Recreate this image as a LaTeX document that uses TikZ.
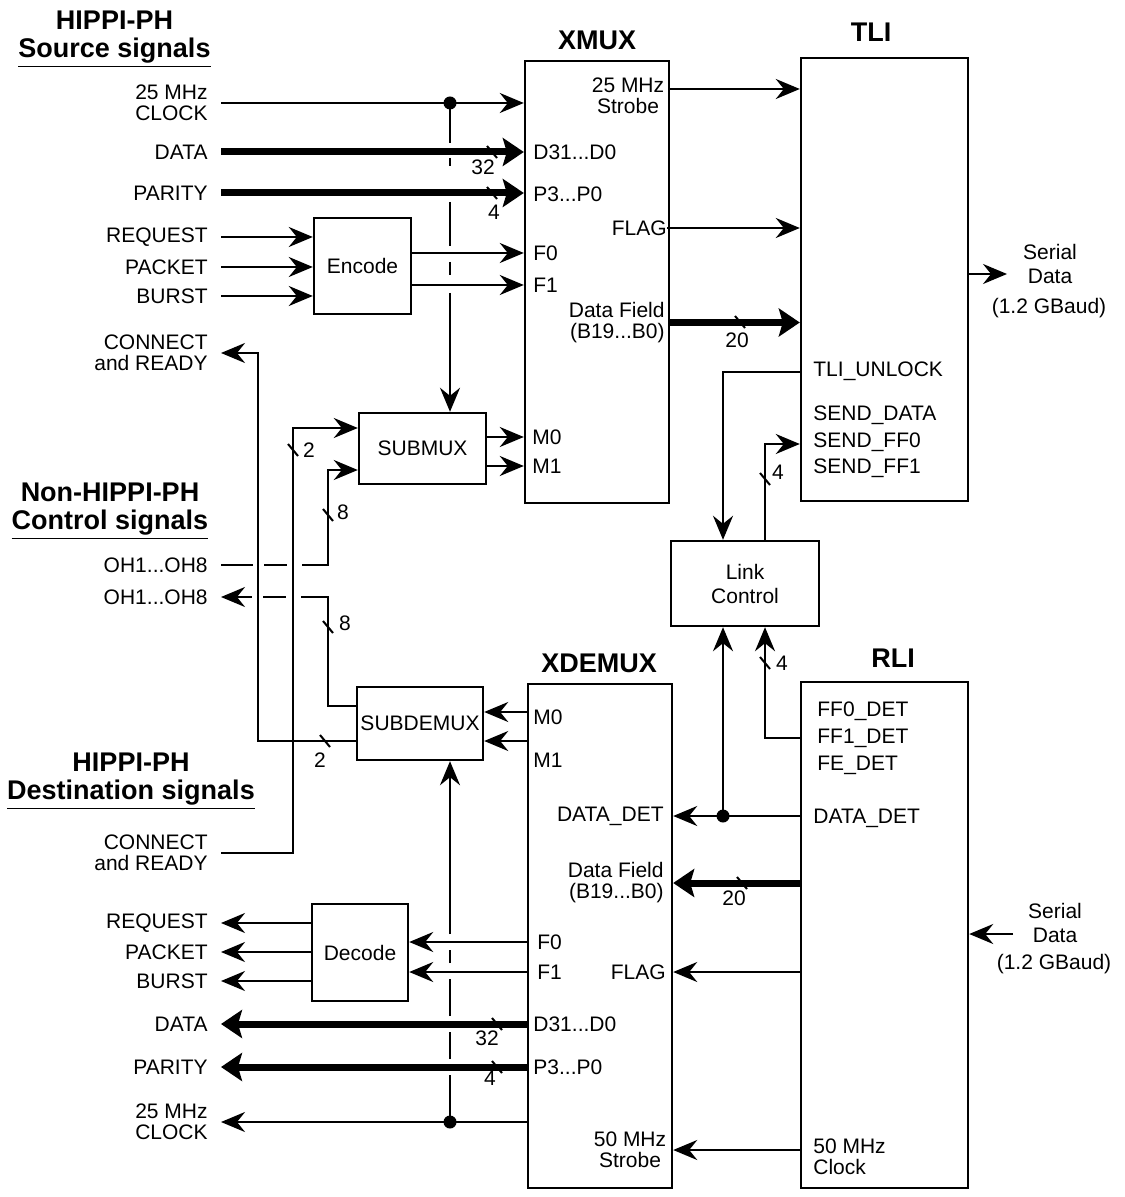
\documentclass[tikz,border=0pt]{standalone}
\usepackage{fontspec}
\setmainfont{Liberation Sans}
\usetikzlibrary{positioning,arrows.meta,calc}

\begin{document}
\begin{tikzpicture}[
  x=0.5pt, y=-0.5pt,
  font=\fontsize{10.5}{10.5}\selectfont,
  blk/.style   = {draw, line width=1.2pt, inner sep=0pt, align=center},
  ttl/.style   = {font=\fontsize{13.5}{14}\selectfont\bfseries, inner sep=0pt},
  grp/.style   = {font=\fontsize{13.5}{14}\selectfont\bfseries, align=center,
                  inner sep=0pt, anchor=north},
  sigl/.style  = {anchor=east, align=right, inner xsep=6.5pt, inner ysep=0pt},
  pinl/.style  = {anchor=west, align=left, inner sep=0pt},
  pinr/.style  = {anchor=east, align=right, inner sep=0pt},
  pinc/.style  = {align=center, inner sep=0pt},
  two/.style   = {font=\fontsize{10.5}{12}\selectfont},
  num/.style   = {inner sep=0pt},
  wire/.style  = {line width=1.2pt, -{Stealth[length=12pt, width=10pt, inset=4pt]}},
  bus/.style   = {line width=3.5pt, -{Stealth[length=10.5pt, width=14pt, inset=2pt]}},
  dot/.style   = {circle, fill, inner sep=0pt, minimum size=6.5pt},
  slash/.pic   = {\draw[line width=1pt] (-5,-6) -- (5,6);}
]
\useasboundingbox (0,0) rectangle (1124,1197);

% ------------------------------------------------------------- i blocchi --
\node[blk, minimum width=72pt,   minimum height=221pt]   (xmux)     at (597,282)     {};
\node[blk, minimum width=83.5pt, minimum height=221.5pt] (tli)      at (884.5,279.5) {};
\node[blk, minimum width=72pt,   minimum height=252pt]   (xdemux)   at (600,936)     {};
\node[blk, minimum width=83.5pt, minimum height=253pt]   (rli)      at (884.5,935)   {};
\node[blk, minimum width=48.5pt, minimum height=48pt]    (encode)   at (362.5,266)   {Encode};
\node[blk, minimum width=63.5pt, minimum height=35.5pt]  (submux)   at (422.5,448.5) {SUBMUX};
\node[blk, minimum width=63pt,   minimum height=36.5pt]  (subdemux) at (420,723.5)   {SUBDEMUX};
\node[blk, minimum width=48pt,   minimum height=48.5pt]  (decode)   at (360,952.5)   {Decode};
\node[blk, two, minimum width=74pt, minimum height=42.5pt] (link)   at (745,583.5)   {Link\\Control};

\node[ttl] (tXmux)   at (597,40)  {XMUX};
\node[ttl] (tTli)    at (871,32)  {TLI};
\node[ttl] (tXdemux) at (599,663) {XDEMUX};
\node[ttl] (tRli)    at (893,658) {RLI};

% ------------------------------------------------------------ i gruppi --
\node[grp] (gSrc) at (114.5,11) {HIPPI-PH\\\underline{Source signals}};
\node[grp] (gCtl) at (110,483)  {Non-HIPPI-PH\\\underline{Control signals}};
\node[grp] (gDst) at (131,753)  {HIPPI-PH\\\underline{Destination signals}};

% ---------------------------------------------------- segnali a sinistra --
\node[sigl] (lclkS) at (221,103)  {25 MHz\\CLOCK};
\node[sigl] (ldatS) at (221,152)  {DATA};
\node[sigl] (lparS) at (221,193)  {PARITY};
\node[sigl] (lreqS) at (221,237)  {REQUEST};
\node[sigl] (lpktS) at (221,267)  {PACKET};
\node[sigl] (lbstS) at (221,296)  {BURST};
\node[sigl] (lconO) at (221,353)  {CONNECT\\and READY};
\node[sigl] (lohI)  at (221,565)  {OH1...OH8};
\node[sigl] (lohO)  at (221,597)  {OH1...OH8};
\node[sigl] (lconI) at (221,853)  {CONNECT\\and READY};
\node[sigl] (lreqD) at (221,923)  {REQUEST};
\node[sigl] (lpktD) at (221,952)  {PACKET};
\node[sigl] (lbstD) at (221,981)  {BURST};
\node[sigl] (ldatD) at (221,1024) {DATA};
\node[sigl] (lparD) at (221,1067) {PARITY};
\node[sigl] (lclkD) at (221,1122) {25 MHz\\CLOCK};

% ------------------------------------------------------- pin dei blocchi --
\node[pinc] (xStr)  at (628,95.5)  {25 MHz\\Strobe};
\node[pinl] (xD)    at (533,152)   {D31...D0};
\node[pinl] (xP)    at (533,194)   {P3...P0};
\node[pinr] (xFlag) at (667,228)   {FLAG};
\node[pinl] (xF0)   at (533,253)   {F0};
\node[pinl] (xF1)   at (533,285)   {F1};
\node[pinr] (xFld)  at (665,322.5) {Data Field\\(B19...B0)};
\node[pinl] (xM0)   at (532,437)   {M0};
\node[pinl] (xM1)   at (532,466)   {M1};

\node[pinl] (tUnl)  at (813,371) {TLI\_UNLOCK};
\node[pinl] (tSdat) at (813,415) {SEND\_DATA};
\node[pinl] (tSff0) at (813,442) {SEND\_FF0};
\node[pinl] (tSff1) at (813,468) {SEND\_FF1};

\node[pinl] (dM0)   at (533,717)  {M0};
\node[pinl] (dM1)   at (533,760)  {M1};
\node[pinr] (dDet)  at (664,816)  {DATA\_DET};
\node[pinr] (dFld)  at (664,883)  {Data Field\\(B19...B0)};
\node[pinl] (dF0)   at (537,942)  {F0};
\node[pinl] (dF1)   at (537,972)  {F1};
\node[pinr] (dFlag) at (666,972)  {FLAG};
\node[pinl] (dD)    at (533,1024) {D31...D0};
\node[pinl] (dP)    at (533,1067) {P3...P0};
\node[pinc] (dStr)  at (630,1150) {50 MHz\\Strobe};

\node[pinl] (rFF0)  at (817,711)  {FF0\_DET};
\node[pinl] (rFF1)  at (817,738)  {FF1\_DET};
\node[pinl] (rFE)   at (817,765)  {FE\_DET};
\node[pinl] (rDet)  at (813,818)  {DATA\_DET};
\node[pinl] (rClk)  at (813,1157) {50 MHz\\Clock};

\node[pinc, two] (serT)  at (1050,264) {Serial\\Data};
\node[num]       (baudT) at (1049,308) {(1.2 GBaud)};
\node[pinc, two] (serR)  at (1055,923) {Serial\\Data};
\node[num]       (baudR) at (1054,964) {(1.2 GBaud)};

% ------------------------------------------------------------- i punti --
\coordinate (pStr)   at (669,89);
\coordinate (pM0)    at (528,712);
\coordinate (pM1)    at (528,741);
\coordinate (conIn)  at (293,428);
\coordinate (ohIn)   at (328,470);
\coordinate (ohOut)  at (328,706);
\coordinate (conOut) at (258,741);
\coordinate (unl)    at (723,372);
\coordinate (ff0)    at (765,444);
\coordinate (serTin) at (1007,274);
\coordinate (serRin) at (1013,934);

\node[dot] (jS)   at (450,103)  {};
\node[dot] (jD)   at (450,1122) {};
\node[dot] (jDet) at (723,816)  {};

% ----------------------------------------------------- lato trasmissione --
\draw[wire] (lclkS.east) -- (xmux.west |- lclkS.east);
\draw[bus]  (ldatS.east) -- (xmux.west |- ldatS.east);
\draw[bus]  (lparS.east) -- (xmux.west |- lparS.east);
\draw[wire] (lreqS.east) -- (encode.west |- lreqS.east);
\draw[wire] (lpktS.east) -- (encode.west |- lpktS.east);
\draw[wire] (lbstS.east) -- (encode.west |- lbstS.east);
\draw[wire] (encode.east |- xF0) -- (xmux.west |- xF0);
\draw[wire] (encode.east |- xF1) -- (xmux.west |- xF1);
\draw[wire, dash pattern=on 20pt off 7.5pt on 4pt off 18pt on 22pt off 8pt on 6.5pt off 9pt on 100pt]
  (jS.center) -- (jS |- submux.north);
\draw[wire] (lconI.east) -| (conIn) -- (submux.west |- conIn);
\draw[wire, dash pattern=on 16pt off 5.5pt on 11.5pt off 7.5pt on 300pt]
  (lohI.east) -| (ohIn) -- (submux.west |- ohIn);
\draw[wire] (submux.east |- xM0) -- (xmux.west |- xM0);
\draw[wire] (submux.east |- xM1) -- (xmux.west |- xM1);

\draw[wire] (xmux.east |- pStr) -- (tli.west |- pStr);
\draw[wire] (xFlag.east) -- (tli.west |- xFlag.east);
\draw[bus]  (xmux.east |- xFld) -- (tli.west |- xFld);
\draw[wire] (tli.east |- serTin) -- (serTin);

% ---------------------------------------------------------- link control --
\draw[wire] (tli.west |- unl) -- (unl) -- (unl |- link.north);
\draw[wire] (ff0 |- link.north) -- (ff0) -- (tli.west |- ff0);
\draw[wire] (rli.west |- rFF1) -| (ff0 |- link.south);
\draw[wire] (jDet.center) -- (jDet |- link.south);

% ------------------------------------------------------ lato ricezione --
\draw[wire] (serRin) -- (rli.east |- serRin);
\draw[wire] (rli.west |- dDet) -- (xdemux.east |- dDet);
\draw[bus]  (rli.west |- dFld) -- (xdemux.east |- dFld);
\draw[wire] (rli.west |- dFlag) -- (xdemux.east |- dFlag);
\draw[wire] (rli.west |- dStr) -- (xdemux.east |- dStr);

\draw[wire] (pM0) -- (subdemux.east |- pM0);
\draw[wire] (pM1) -- (subdemux.east |- pM1);
\draw[wire] (subdemux.west |- conOut) -- (conOut) |- (lconO.east);
\draw[wire, dash pattern=on 82pt off 7.5pt on 11.5pt off 5.5pt on 100pt]
  (subdemux.west |- ohOut) -- (ohOut) |- (lohO.east);
\draw[wire, dash pattern=on 23.5pt off 8pt on 13.5pt off 8pt on 18.5pt off 8pt on 6.5pt off 8pt on 100pt]
  (jD.center) -- (jD |- subdemux.south);

\draw[wire] (xdemux.west |- dF0) -- (decode.east |- dF0);
\draw[wire] (xdemux.west |- dF1) -- (decode.east |- dF1);
\draw[wire] (decode.west |- lreqD) -- (lreqD.east);
\draw[wire] (decode.west |- lpktD) -- (lpktD.east);
\draw[wire] (decode.west |- lbstD) -- (lbstD.east);
\draw[bus]  (xdemux.west |- ldatD) -- (ldatD.east);
\draw[bus]  (xdemux.west |- lparD) -- (lparD.east);
\draw[wire] (xdemux.west |- lclkD) -- (lclkD.east);

% ------------------------------------------------------- larghezze bus --
\pic at (492,152) {slash};  \node[num] (n32S) at (483,167) {32};
\pic at (492,193) {slash};  \node[num] (n4S)  at (494,212) {4};
\pic at (740,322) {slash};  \node[num] (n20T) at (737,340) {20};
\pic at (293,450) {slash};  \node[num] (n2S)  at (309,450) {2};
\pic at (328,515) {slash};  \node[num] (n8S)  at (343,512) {8};
\pic at (328,627) {slash};  \node[num] (n8D)  at (345,623) {8};
\pic at (325,741) {slash};  \node[num] (n2D)  at (320,760) {2};
\pic at (765,479) {slash};  \node[num] (n4T)  at (778,472) {4};
\pic at (765,663) {slash};  \node[num] (n4R)  at (782,663) {4};
\pic at (742,883) {slash};  \node[num] (n20R) at (734,898) {20};
\pic at (497,1024) {slash}; \node[num] (n32D) at (487,1038) {32};
\pic at (497,1067) {slash}; \node[num] (n4D)  at (490,1078) {4};

\end{tikzpicture}
\end{document}
